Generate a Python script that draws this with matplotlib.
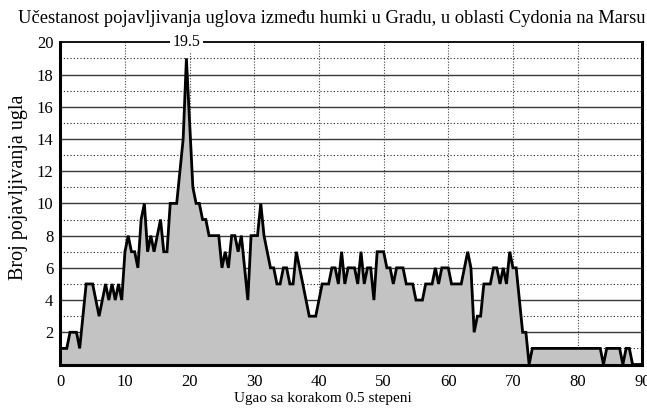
import numpy as np
import matplotlib
matplotlib.use('Agg')
import matplotlib.pyplot as plt

# ugao u koracima od 0.5 stepeni
angles = np.arange(0, 90.5, 0.5)
counts = [
	1, 1, 1, 2, 2, 2, 1, 3, 5, 5,
	5, 4, 3, 4, 5, 4, 5, 4, 5, 4,
	7, 8, 7, 7, 6, 9, 10, 7, 8, 7,
	8, 9, 7, 7, 10, 10, 10, 12, 14, 19,
	15, 11, 10, 10, 9, 9, 8, 8, 8, 8,
	6, 7, 6, 8, 8, 7, 8, 6, 4, 8,
	8, 8, 10, 8, 7, 6, 6, 5, 5, 6,
	6, 5, 5, 7, 6, 5, 4, 3, 3, 3,
	4, 5, 5, 5, 6, 6, 5, 7, 5, 6,
	6, 6, 5, 7, 5, 6, 6, 4, 7, 7,
	7, 6, 6, 5, 6, 6, 6, 5, 5, 5,
	4, 4, 4, 5, 5, 5, 6, 5, 6, 6,
	6, 5, 5, 5, 5, 6, 7, 6, 2, 3,
	3, 5, 5, 5, 6, 6, 5, 6, 5, 7,
	6, 6, 4, 2, 2, 0, 1, 1, 1, 1,
	1, 1, 1, 1, 1, 1, 1, 1, 1, 1,
	1, 1, 1, 1, 1, 1, 1, 1, 0, 1,
	1, 1, 1, 1, 0, 1, 1, 0, 0, 0,
	0,
]
peak_label = '19.5'
x_ticks = [0, 10, 20, 30, 40, 50, 60, 70, 80, 90]
y_ticks = [2, 4, 6, 8, 10, 12, 14, 16, 18, 20]

plt.rcParams['font.family'] = ['Liberation Serif', 'DejaVu Serif']

fig = plt.figure(figsize=(6.47, 4.08), dpi=100)
ax = fig.add_axes([0.0932, 0.1066, 0.8995, 0.7897])

# pune linije na parnim, tackaste na neparnim vrednostima
for v in range(1, 20):
	if v % 2 == 0:
		ax.axhline(v, color='#3a3a3a', lw=1.0, zorder=1)
	else:
		ax.axhline(v, color='#222222', lw=0.8, ls=(0, (1, 2)), zorder=1)
for v in x_ticks[1:-1]:
	ax.axvline(v, color='#444444', lw=0.8, ls=(0, (1, 1.5)), zorder=1)

ax.fill_between(angles, counts, 0, color='#c3c3c3', zorder=2)
ax.plot(angles, counts, color='black', lw=2.0, zorder=3, solid_joinstyle='miter')

ax.set_xlim(0, 90)
ax.set_ylim(0, 20)
ax.set_xticks(x_ticks)
ax.set_yticks(y_ticks)
ax.tick_params(length=0, labelsize=12)
ax.tick_params(axis='x', pad=7)
ax.tick_params(axis='y', pad=5)

for s in ['left', 'bottom', 'right']:
	ax.spines[s].set_linewidth(2.2)
ax.spines['top'].set_linewidth(1.3)
for s in ax.spines.values():
	s.set_zorder(4)

ipk = int(np.argmax(counts))
ax.text(angles[ipk], 20.0, peak_label, ha='center', va='center', fontsize=11.5,
	bbox=dict(facecolor='white', edgecolor='none', pad=2), zorder=5, clip_on=False)

ax.set_xlabel('Ugao sa korakom 0.5 stepeni', fontsize=11)
ax.xaxis.set_label_coords(0.451, -0.085)
ax.set_ylabel('Broj pojavljivanja ugla', fontsize=14.5)
ax.yaxis.set_label_coords(-0.056, 0.55)
fig.text(0.512, 0.955, 'Učestanost pojavljivanja uglova između humki u Gradu, u oblasti Cydonia na Marsu',
	ha='center', va='center', fontsize=13.3)

fig.savefig('out.png', dpi=100)
